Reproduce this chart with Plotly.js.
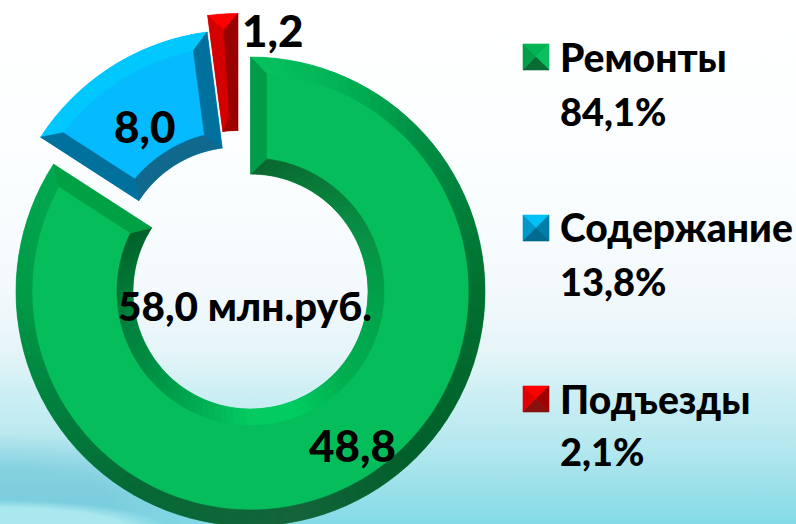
<!DOCTYPE html>
<html><head><meta charset="utf-8">
<script src="https://cdn.plot.ly/plotly-3.0.1.min.js"></script>
<style>
html,body{margin:0;padding:0;width:796px;height:524px;overflow:hidden;
background:
 radial-gradient(ellipse 170px 30px at 0px 530px,#a8e8ee 75%,rgba(168,232,238,0) 100%),
 radial-gradient(ellipse 240px 65px at 0px 498px,rgba(100,190,212,.5) 45%,rgba(100,190,212,0) 100%),
 linear-gradient(to bottom,#ffffff 0,#fbfeff 170px,#f3f9fc 290px,#e6f5f8 350px,#c9eef3 400px,#b3e7ee 450px,#84dae6 524px);}
</style></head><body><div id="chart"></div>
<script>
// Data
const categories = ["Ремонты", "Содержание", "Подъезды"];
const values = [48.8, 8.0, 1.2];
const valueLabels = ["48,8", "8,0", "1,2"];
const shares = ["84,1%", "13,8%", "2,1%"];
const totalLabel = "58,0 млн.руб.";

// Style
const W = 796, H = 560;
const R = 234.5, holeR = 117.5, bevel = 16;
const centers = [[250.5, 291.5], [237.5, 264.5], [238, 248]];
const faces = ["#06bd5c", "#06baff", "#d40000"];
const capColors = [["#009c4a", "#00a045"], ["#00719c", "#00719c"], ["#d40000", "#990000"]];
const outerStops = [
  [[0,"#06c05e"],[15,"#04b85a"],[30,"#00a84f"],[45,"#008f45"],[60,"#00853f"],[75,"#007a37"],[90,"#006f30"],[135,"#005f2b"],[170,"#14633a"],[210,"#066835"],[240,"#007f3d"],[270,"#009a47"],[303,"#00a84f"]],
  [[0,"#00c8ff"],[360,"#00c8ff"]],
  [[0,"#ff0000"],[360,"#ff0000"]]
];
const innerStops = [
  [[0,"#0a662f"],[30,"#087a38"],[60,"#088f45"],[90,"#00a04a"],[135,"#00b050"],[160,"#00cc62"],[180,"#05cb62"],[210,"#00a850"],[240,"#008a42"],[270,"#007a38"],[303,"#006029"]],
  [[0,"#10688c"],[360,"#10688c"]],
  [[0,"#a00000"],[360,"#a00000"]]
];
const legendSquares = [
  {y:44, c:["#00b353","#00a048","#0abf5f","#0a6b35"]},
  {y:215,c:["#00c0f8","#0098c8","#007ca8","#006a90"]},
  {y:386,c:["#ff0000","#e00000","#a00000","#8a1010"]}
];
const legendY = [[57,111],[227,281],[399,451]];
const labelPos = [[352,445],[144,126],[272,30]];
const font = '"Lato","Noto Sans",sans-serif';

const px = x => x / W, py = y => 1 - y / H;
const total = values.reduce((a, b) => a + b, 0);
const hex = s => [1,3,5].map(i => parseInt(s.substr(i,2),16));
function colorAt(stops, t) {
  for (let i = 1; i < stops.length; i++) {
    if (t <= stops[i][0]) {
      const [a, ca] = stops[i-1], [b, cb] = stops[i];
      const f = (t-a)/(b-a), A = hex(ca), B = hex(cb);
      return "rgb(" + A.map((v,k) => Math.round(v+(B[k]-v)*f)).join(",") + ")";
    }
  }
  return stops[stops.length-1][1];
}
const pt = (c, r, deg) => {
  const a = deg*Math.PI/180;
  return [c[0]+r*Math.sin(a), c[1]-r*Math.cos(a)];
};
const toPath = pts => "M" + pts.map(p => px(p[0]).toFixed(5)+","+py(p[1]).toFixed(5)).join("L") + "Z";
const poly = (pts, color) => ({type:"path", xref:"paper", yref:"paper", path:toPath(pts),
  fillcolor:color, line:{color:color, width:0.6}, layer:"above"});

const traces = [], shapes = [];
let start = 0;
values.forEach((v, i) => {
  // one pie per slice, so that each can be moved out by its own offset
  const c = centers[i];
  traces.push({
    type:"pie", values:values, labels:categories, sort:false, direction:"clockwise", rotation:0,
    hole:holeR/R, textinfo:"none", showlegend:false, hoverinfo:"label+value",
    marker:{colors:values.map((_,k)=> k===i ? faces[i] : "rgba(0,0,0,0)"), line:{width:0}},
    domain:{x:[px(c[0]-R), px(c[0]+R)], y:[py(c[1]+R), py(c[1]-R)]}
  });
  const span = v/total*360, end = start+span;
  // face corner angles, offset parallel to the slice edges
  const rO = R-bevel, rI = holeR+bevel;
  const corner = (r) => {
    const d = Math.asin(bevel/r)*180/Math.PI;
    return d*2 >= span ? [start+span/2, start+span/2] : [start+d, end-d];
  };
  const [oa, ob] = corner(rO), [ia, ib] = corner(rI);
  const step = 3, n = Math.max(1, Math.ceil(span/step));
  for (let s = 0; s < n; s++) {
    const t0 = start+span*s/n, t1 = start+span*(s+1)/n;
    const f0 = s/n, f1 = (s+1)/n;
    shapes.push(poly([pt(c,R,t0),pt(c,R,t1),pt(c,rO,oa+(ob-oa)*f1),pt(c,rO,oa+(ob-oa)*f0)],
      colorAt(outerStops[i],(t0+t1)/2)));
    shapes.push(poly([pt(c,holeR,t0),pt(c,holeR,t1),pt(c,rI,ia+(ib-ia)*f1),pt(c,rI,ia+(ib-ia)*f0)],
      colorAt(innerStops[i],(t0+t1)/2)));
  }
  shapes.push(poly([pt(c,R,start),pt(c,rO,oa),pt(c,rI,ia),pt(c,holeR,start)], capColors[i][0]));
  shapes.push(poly([pt(c,R,end),pt(c,rO,ob),pt(c,rI,ib),pt(c,holeR,end)], capColors[i][1]));
  start = end;
});

// legend swatches
const sx = 523, ss = 26;
legendSquares.forEach(q => {
  const a=[sx,q.y], b=[sx+ss,q.y], d=[sx+ss,q.y+ss], e=[sx,q.y+ss], m=[sx+ss/2,q.y+ss/2];
  [[a,b,m],[a,e,m],[b,d,m],[e,d,m]].forEach((t,k)=>shapes.push(poly(t,q.c[k])));
});

const ann = (text,x,y,size,anchor) => ({text:text, xref:"paper", yref:"paper", x:px(x), y:py(y),
  xanchor:anchor, yanchor:"middle", showarrow:false, font:{family:font,size:size,color:"#000",weight:900}});
const annotations = [ann(totalLabel,245,306,40.5,"center")];
valueLabels.forEach((t,i)=>annotations.push(ann(t,labelPos[i][0],labelPos[i][1],44,"center")));
categories.forEach((t,i)=>{
  annotations.push(ann(t,558,legendY[i][0],39,"left"));
  annotations.push(ann(shares[i],558,legendY[i][1],38,"left"));
});

Plotly.newPlot("chart", traces, {
  width:W, height:H, margin:{l:0,r:0,t:0,b:0},
  paper_bgcolor:"rgba(0,0,0,0)", plot_bgcolor:"rgba(0,0,0,0)",
  showlegend:false, shapes:shapes, annotations:annotations
}, {displayModeBar:false, staticPlot:true});
</script></body></html>
